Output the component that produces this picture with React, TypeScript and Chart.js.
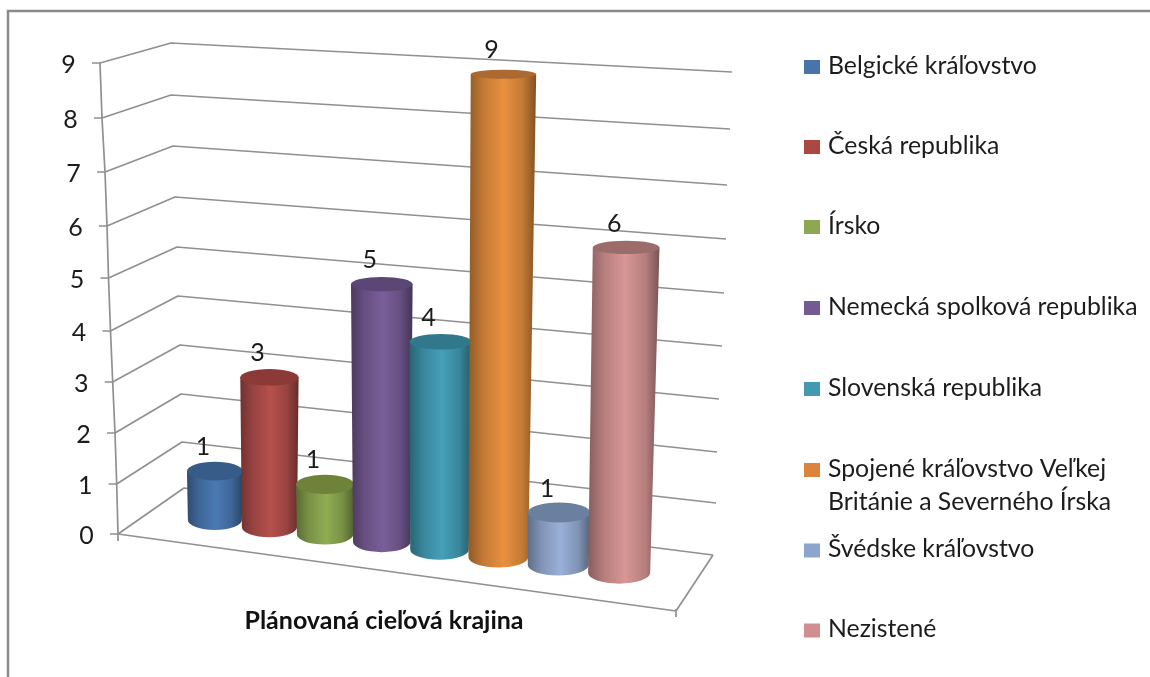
import React, { useEffect, useRef } from "react";
import { Chart, registerables } from "chart.js";

Chart.register(...registerables);

const categories = [
  "Belgické kráľovstvo",
  "Česká republika",
  "Írsko",
  "Nemecká spolková republika",
  "Slovenská republika",
  "Spojené kráľovstvo Veľkej Británie a Severného Írska",
  "Švédske kráľovstvo",
  "Nezistené",
];
const values = [1, 3, 1, 5, 4, 9, 1, 6];
const bodyColors = ["#4A7AB4", "#B5504D", "#8FAD52", "#7A5E9A", "#44A0B8", "#E8913F", "#9AB0D9", "#D99696"];
const capColors = ["#385C88", "#8C3A38", "#6E8339", "#5A4775", "#31788C", "#AD6A30", "#6B7F9E", "#9C6C6B"];
const legendColors = ["#4775AB", "#AC4744", "#8DA850", "#735A92", "#4399B2", "#DD843C", "#8CA5CC", "#D08F8E"];
const legendLines = [
  ["Belgické kráľovstvo"],
  ["Česká republika"],
  ["Írsko"],
  ["Nemecká spolková republika"],
  ["Slovenská republika"],
  ["Spojené kráľovstvo Veľkej", "Británie a Severného Írska"],
  ["Švédske kráľovstvo"],
  ["Nezistené"],
];
const axisTitle = "Plánovaná cieľová krajina";

// 3D box decoration: one row for each axis value 0..9 [axis, back corner, right end]
const wallRows = [
  [118, 534, 184, 488, 713, 555],
  [116.7, 484, 182, 442, 716, 503],
  [115, 433, 181, 394, 717, 452],
  [112.7, 382, 180, 345, 719, 399],
  [110.5, 331, 178, 296, 722, 346],
  [108.5, 278, 177, 247, 724, 293],
  [107, 226, 175, 197, 726, 239],
  [105, 172, 173, 146, 727, 185],
  [102, 118, 171, 95, 730, 129],
  [100, 63, 171, 43, 732, 72],
];
const legendY = [67, 147, 227, 308, 389, 470, 550.5, 630.5];
const FONT = "Lato";
const TEXT = "#1c1c1c";
const LINE = "#909090";

function shade(hex: string, f: number) {
  const n = parseInt(hex.slice(1), 16);
  const c = (s: number) => Math.round(((n >> s) & 255) * f);
  return `rgb(${c(16)},${c(8)},${c(0)})`;
}

function project(el: any) {
  const t = (el.x - 215) / 404;
  const cxB = el.x + 26 * (t * t - t);
  const yB = el.base + 0.1312 * (cxB - 215);
  const v = (el.base - el.y) / 50;
  const h = v * (48.7 + 0.0105 * (cxB - 215) + 0.22 * v);
  const tilt = Math.max(0, cxB - 380) * 0.00009;
  const cxT = cxB + tilt * h;
  const yT = yB - h;
  const rxB = 27 + 4 * t;
  const rxT = rxB + 0.13 * Math.sqrt(h);
  return { cxB, yB, cxT, yT, rxB, rxT, ryB: 3.6 + 0.0123 * yB, ryT: 3.6 + 0.0123 * yT };
}

const scene = {
  id: "scene",
  beforeDatasetsDraw(chart: any) {
    const ctx = chart.ctx;
    const yTicks = chart.scales.y.ticks;
    ctx.save();
    ctx.strokeStyle = "#8a8a8a";
    ctx.lineWidth = 2.5;
    ctx.beginPath();
    ctx.moveTo(8, 680);
    ctx.lineTo(8, 11);
    ctx.lineTo(1152, 11);
    ctx.stroke();

    ctx.strokeStyle = LINE;
    ctx.lineWidth = 1.7;
    ctx.lineJoin = "round";
    wallRows.forEach((r) => {
      ctx.beginPath();
      ctx.moveTo(r[0] - 8, r[1]);
      ctx.lineTo(r[0], r[1]);
      ctx.lineTo(r[2], r[3]);
      ctx.lineTo(r[4], r[5]);
      ctx.stroke();
    });
    // vertical axis
    ctx.beginPath();
    ctx.moveTo(wallRows[9][0], wallRows[9][1]);
    wallRows.slice().reverse().forEach((r) => ctx.lineTo(r[0], r[1]));
    ctx.lineTo(118, 541);
    ctx.stroke();
    // floor front
    ctx.beginPath();
    ctx.moveTo(118, 534);
    ctx.lineTo(676, 611);
    ctx.lineTo(713, 555);
    ctx.moveTo(676, 609);
    ctx.lineTo(676, 617);
    ctx.stroke();

    // tick labels
    ctx.fillStyle = TEXT;
    ctx.font = `25px ${FONT}`;
    ctx.textAlign = "center";
    ctx.textBaseline = "middle";
    yTicks.forEach((tk: any) => {
      const r = wallRows[tk.value];
      ctx.fillText(String(tk.value), r[0] - 31.5, r[1] + 2);
    });

    // axis title
    ctx.font = `bold 25px ${FONT}`;
    ctx.fillStyle = "#111";
    ctx.fillText(axisTitle, 384, 621);

    // legend
    ctx.textAlign = "left";
    ctx.font = `24.8px ${FONT}`;
    legendLines.forEach((lines, i) => {
      ctx.fillStyle = legendColors[i];
      ctx.fillRect(804, legendY[i] - 7, 16, 14);
      ctx.fillStyle = TEXT;
      lines.forEach((s, k) => ctx.fillText(s, 828, legendY[i] - 1 + k * 33));
    });
    ctx.restore();
  },
  beforeDatasetDraw(chart: any, args: any) {
    const ctx = chart.ctx;
    const meta = chart.getDatasetMeta(args.index);
    const ds = chart.data.datasets[args.index];
    ctx.save();
    meta.data.forEach((el: any, i: number) => {
      const p = project(el);
      const col = ds.backgroundColor[i];
      const x0 = Math.min(p.cxB - p.rxB, p.cxT - p.rxT);
      const x1 = Math.max(p.cxB + p.rxB, p.cxT + p.rxT);
      const g = ctx.createLinearGradient(x0, 0, x1, 0);
      g.addColorStop(0, shade(col, 0.62));
      g.addColorStop(0.22, shade(col, 0.84));
      g.addColorStop(0.52, shade(col, 1));
      g.addColorStop(0.8, shade(col, 0.84));
      g.addColorStop(1, shade(col, 0.56));
      ctx.fillStyle = g;
      ctx.beginPath();
      ctx.moveTo(p.cxT - p.rxT, p.yT);
      ctx.lineTo(p.cxB - p.rxB, p.yB);
      ctx.ellipse(p.cxB, p.yB, p.rxB, p.ryB, 0, Math.PI, 0, true);
      ctx.lineTo(p.cxT + p.rxT, p.yT);
      ctx.closePath();
      ctx.fill();
      ctx.fillStyle = capColors[i];
      ctx.beginPath();
      ctx.ellipse(p.cxT, p.yT, p.rxT, p.ryT, 0, 0, Math.PI * 2);
      ctx.fill();
    });
    ctx.restore();
    return false;
  },
  afterDatasetsDraw(chart: any) {
    const ctx = chart.ctx;
    const meta = chart.getDatasetMeta(0);
    ctx.save();
    ctx.fillStyle = TEXT;
    ctx.font = `25px ${FONT}`;
    ctx.textAlign = "center";
    ctx.textBaseline = "middle";
    meta.data.forEach((el: any, i: number) => {
      const p = project(el);
      ctx.fillText(String(values[i]), p.cxT - 12, p.yT - 24);
    });
    ctx.restore();
  },
};

export default function App() {
  const ref = useRef<HTMLCanvasElement | null>(null);
  useEffect(() => {
    document.body.style.margin = "0";
    document.body.style.background = "#fff";
    const chart = new Chart(ref.current as HTMLCanvasElement, {
      type: "bar",
      data: {
        labels: categories,
        datasets: [{ data: values, backgroundColor: bodyColors, barPercentage: 0.95, categoryPercentage: 1 }],
      },
      options: {
        responsive: false,
        animation: false,
        devicePixelRatio: 1,
        layout: { padding: { left: 186, right: 502, top: 70, bottom: 157 } },
        plugins: { legend: { display: false }, tooltip: { enabled: false }, title: { display: false } },
        scales: {
          x: { display: false },
          y: { display: false, min: 0, max: 9, ticks: { stepSize: 1 } },
        },
      },
      plugins: [scene],
    } as any);
    return () => chart.destroy();
  }, []);
  return <canvas ref={ref} width={1150} height={677} style={{ display: "block" }} />;
}
